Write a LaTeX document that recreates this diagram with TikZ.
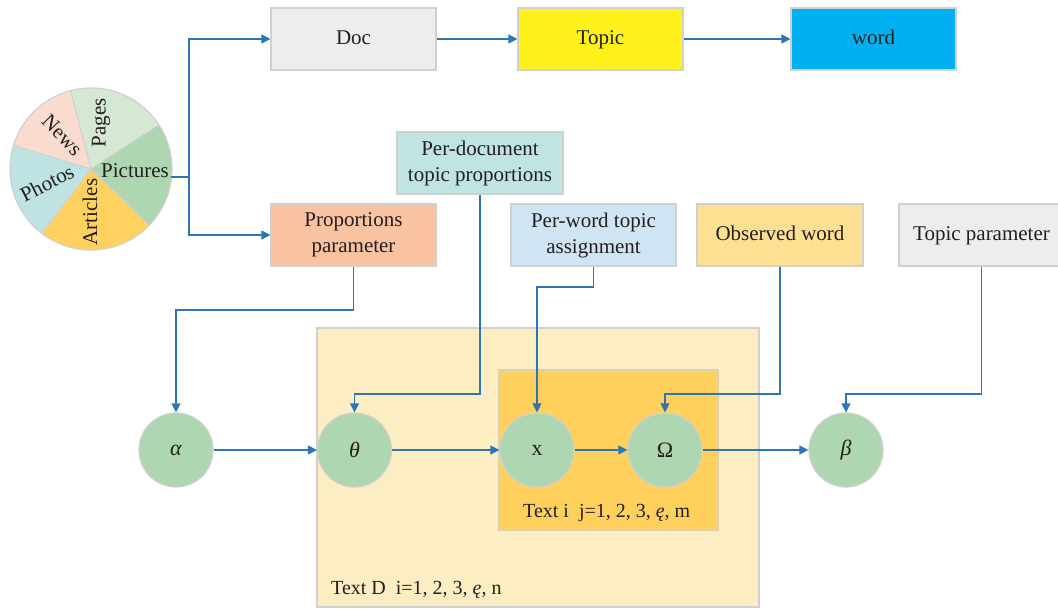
\documentclass[tikz,border=0pt]{standalone}
\usepackage{fontspec}
\setmainfont{Liberation Serif}
\usetikzlibrary{arrows.meta,calc}
\definecolor{ink}{HTML}{231F20}
\definecolor{edge}{HTML}{D0D0D0}
\definecolor{flow}{HTML}{2E75B6}
\definecolor{greyfill}{HTML}{EDEDED}
\definecolor{topicfill}{HTML}{FFF21A}
\definecolor{wordfill}{HTML}{00B0F0}
\definecolor{propfill}{HTML}{F9C2A0}
\definecolor{pdocfill}{HTML}{BFE4E2}
\definecolor{pwordfill}{HTML}{CFE5F3}
\definecolor{obsfill}{HTML}{FFDF92}
\definecolor{outerfill}{HTML}{FDEDC3}
\definecolor{innerfill}{HTML}{FFD15C}
\definecolor{nodefill}{HTML}{AED6B0}
\definecolor{pagesfill}{HTML}{D5E8D4}
\definecolor{newsfill}{HTML}{FADBD0}
\definecolor{photosfill}{HTML}{BFE3E3}
\definecolor{articlesfill}{HTML}{FFD25F}
\definecolor{picturesfill}{HTML}{AED6B0}
\tikzset{
  labelbox/.style={draw=edge, line width=1.2pt, minimum width=165pt, minimum height=62pt,
    inner sep=0pt, align=center, text=ink, font=\fontsize{21}{26}\selectfont},
  onelinebox/.style={labelbox, execute at begin node=\strut},
  varnode/.style={circle, draw=edge, line width=1.2pt, fill=nodefill, minimum size=74pt,
    inner sep=0pt, text=ink, font=\fontsize{22}{26}\selectfont},
  arr/.style={draw=flow, line width=1.3pt, -{Triangle[length=9pt,width=9pt]}},
  pielabel/.style={text=ink, inner sep=0pt, font=\fontsize{21}{24}\selectfont},
  platetext/.style={text=ink, inner sep=0pt, anchor=west, font=\fontsize{20}{24}\selectfont},
}
\begin{document}
\begin{tikzpicture}[x=1pt,y=-1pt]
\useasboundingbox (0,0) rectangle (1058,612);

% plates
\node[draw=edge, line width=1.2pt, fill=outerfill, minimum width=442pt, minimum height=279pt,
  inner sep=0pt] (plateD) at (538,467.5) {};
\node[draw=edge!80!innerfill, line width=1.2pt, fill=innerfill, minimum width=219pt, minimum height=160pt,
  inner sep=0pt] (platei) at (608.5,450) {};
\node[platetext] (labD) at (331,590) {Text D\ \ i=1, 2, 3, \textit{ę}, n};
\node[platetext] (labi) at (523,513) {Text i\ \ j=1, 2, 3, \textit{ę}, m};

% pie chart of sources
\coordinate (pc) at (91,169);
\def\pr{81}
\fill[pagesfill]    (pc) -- ++(-104.6:\pr) arc[start angle=-104.6, end angle=-33,  radius=\pr] -- cycle;
\fill[newsfill]     (pc) -- ++(-163:\pr)   arc[start angle=-163,   end angle=-104.6, radius=\pr] -- cycle;
\fill[photosfill]   (pc) -- ++(-232.6:\pr) arc[start angle=-232.6, end angle=-163, radius=\pr] -- cycle;
\fill[articlesfill] (pc) -- ++(-316:\pr)   arc[start angle=-316,   end angle=-232.6, radius=\pr] -- cycle;
\fill[picturesfill] (pc) -- ++(-393:\pr)   arc[start angle=-393,   end angle=-316, radius=\pr] -- cycle;
\foreach \a in {-104.6,-33,-163,-232.6,-316}
  \draw[edge, line width=1pt] (pc) -- ++(\a:\pr);
\node[circle, draw=edge, line width=1.2pt, minimum size=162pt, inner sep=0pt] (pie) at (pc) {};
\node[pielabel, rotate=90]  (lpages) at (101,123) {Pages};
\node[pielabel, rotate=-46] (lnews) at (62,135) {News};
\node[pielabel, rotate=27]  (lphotos) at (47,183) {Photos};
\node[pielabel, rotate=90]  (larticles) at (90,212) {Articles};
\node[pielabel]             (lpictures) at (135,171) {Pictures};

% boxes
\node[onelinebox, fill=greyfill]  (doc)   at (353.5,39)  {Doc};
\node[onelinebox, fill=topicfill] (topic) at (600.5,39)  {Topic};
\node[onelinebox, fill=wordfill]  (word)  at (873.5,39)  {word};
\node[labelbox, fill=propfill]  (prop)  at (353.5,235) {Proportions\\parameter};
\node[labelbox, fill=pdocfill, minimum width=166pt] (pdoc) at (480,163) {Per-document\\topic proportions};
\node[labelbox, fill=pwordfill] (pword) at (593.5,235) {Per-word topic\\assignment};
\node[onelinebox, fill=obsfill, minimum width=166pt] (obs) at (780,235) {Observed word};
\node[onelinebox, fill=greyfill]  (tpar)  at (981.5,235) {Topic parameter};

% model variables
\node[varnode] (alpha) at (176,450)   {\textit{α}};
\node[varnode] (theta) at (354.5,450) {\textit{θ}};
\node[varnode] (xn)    at (537,450)   {x};
\node[varnode] (om)    at (665,450)   {Ω};
\node[varnode] (beta)  at (846,450)   {\textit{β}};

% connectors
\coordinate (pout) at (171,177);
\coordinate (split) at (189,177);
\draw[flow, line width=1.3pt] (pout) -- (split);
\draw[arr] (split) |- (doc.west);
\draw[arr] (split) |- (prop.west);
\draw[arr] (doc) -- (topic);
\draw[arr] (topic) -- (word);

\draw[arr] (prop.south) -- (prop.south |- 0,310) -| (alpha.north);
\draw[arr] (pdoc.south) -- (pdoc.south |- 0,394) -| (theta.north);
\draw[arr] (pword.south) -- (pword.south |- 0,287) -| (xn.north);
\draw[arr] (obs.south) -- (obs.south |- 0,394) -| (om.north);
\draw[arr] (tpar.south) -- (tpar.south |- 0,394) -| (beta.north);

\draw[arr] (alpha) -- (theta);
\draw[arr] (theta) -- (xn);
\draw[arr] (xn) -- (om);
\draw[arr] (om) -- (beta);
\end{tikzpicture}
\end{document}
